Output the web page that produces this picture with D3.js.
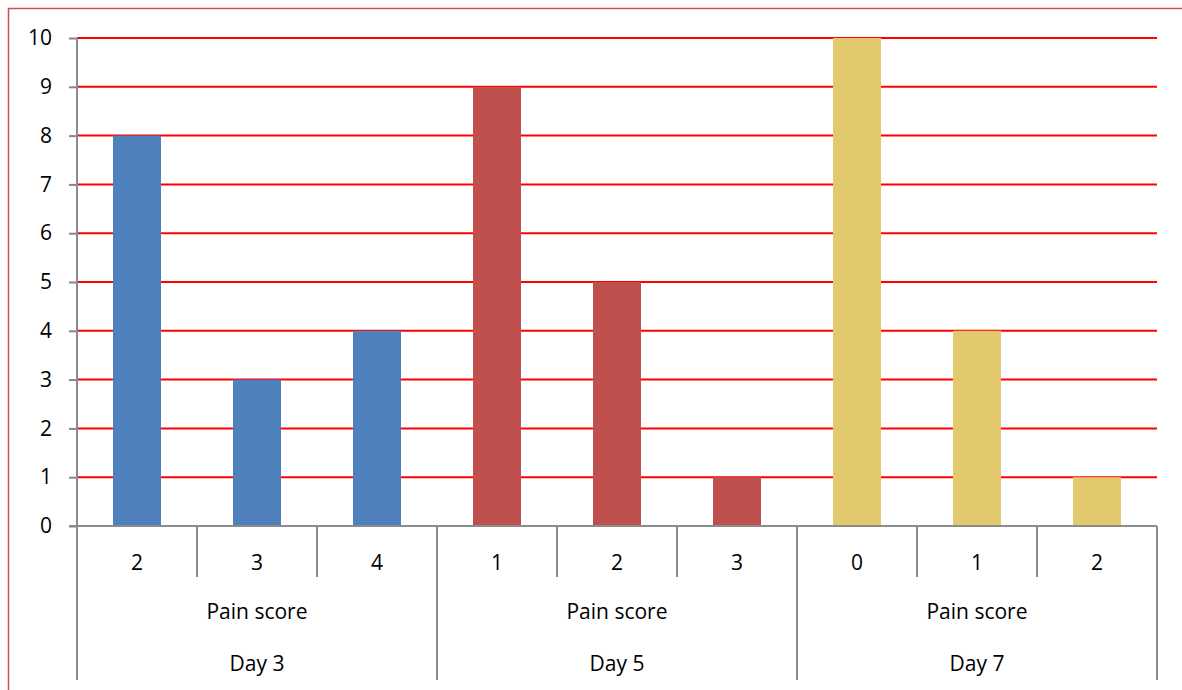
<!DOCTYPE html>
<html>
<head>
<meta charset="utf-8">
<script src="https://cdn.jsdelivr.net/npm/d3@7/dist/d3.min.js"></script>
<style>
  body { margin: 0; background: #fff; }
  text { font-family: "Open Sans", "Noto Sans", sans-serif; fill: #000; }
</style>
</head>
<body>
<div id="chart"></div>
<script>
// data
var days = ["Day 3", "Day 5", "Day 7"];
var groupLabel = "Pain score";
var painScores = [["2", "3", "4"], ["1", "2", "3"], ["0", "1", "2"]];
var counts = [[8, 3, 4], [9, 5, 1], [10, 4, 1]];
var dayColors = ["#4f81bd", "#c0504d", "#e3c96d"];
var yTicks = [0, 1, 2, 3, 4, 5, 6, 7, 8, 9, 10];

var W = 1182, H = 690;
var margin = {top: 38, right: 25, bottom: 164, left: 77},
    width = W - margin.left - margin.right,
    height = H - margin.top - margin.bottom;

var svg = d3.select("#chart")
  .append("svg")
    .attr("width", W)
    .attr("height", H);

// outer chart frame
svg.append("rect")
  .attr("x", 8.5).attr("y", 8.5)
  .attr("width", W + 20).attr("height", H + 20)
  .attr("fill", "none")
  .attr("stroke", "#c9504d")
  .attr("stroke-width", 1.5);

var g = svg.append("g")
  .attr("transform", "translate(" + margin.left + "," + margin.top + ")");

// flatten into one row per bar
var rows = [];
days.forEach(function(day, i) {
  painScores[i].forEach(function(s, j) {
    rows.push({key: i + "-" + j, day: i, score: s, value: counts[i][j]});
  });
});

var x = d3.scaleBand()
  .domain(rows.map(function(d) { return d.key; }))
  .range([0, width])
  .paddingInner(0.6)
  .paddingOuter(0.3);

var y = d3.scaleLinear()
  .domain([0, 10])
  .range([height, 0]);

// red gridlines
g.selectAll(".grid")
  .data(yTicks.filter(function(t) { return t > 0; }))
  .enter()
  .append("line")
    .attr("x1", 0).attr("x2", width)
    .attr("y1", function(d) { return y(d); })
    .attr("y2", function(d) { return y(d); })
    .attr("stroke", "#ff0000")
    .attr("stroke-width", 2);

// bars
g.selectAll(".bar")
  .data(rows)
  .enter()
  .append("rect")
    .attr("x", function(d) { return x(d.key); })
    .attr("y", function(d) { return y(d.value); })
    .attr("width", x.bandwidth())
    .attr("height", function(d) { return height - y(d.value); })
    .style("fill", function(d) { return dayColors[d.day]; });

// y axis
var yAxis = g.append("g")
  .call(d3.axisLeft(y).tickValues(yTicks).tickSize(8).tickPadding(17).tickFormat(d3.format("d")));
yAxis.select(".domain").remove();
yAxis.selectAll(".tick line").attr("stroke", "#868686").attr("stroke-width", 2);
yAxis.selectAll(".tick text").style("font-size", "21px");

var axisColor = "#8c8c8c";
var step = x.step();
var lvl1 = 51, lvl3 = 154;

// vertical axis line down through the category area
g.append("line")
  .attr("x1", 0).attr("x2", 0)
  .attr("y1", 0).attr("y2", height + lvl3)
  .attr("stroke", axisColor).attr("stroke-width", 2);

// horizontal base line
g.append("line")
  .attr("x1", -8).attr("x2", width)
  .attr("y1", height).attr("y2", height)
  .attr("stroke", axisColor).attr("stroke-width", 2);

// category ticks between bars (short) and between groups (long)
var tickX = d3.range(1, rows.length + 1);
g.selectAll(".ctick")
  .data(tickX)
  .enter()
  .append("line")
    .attr("x1", function(d) { return d * step; })
    .attr("x2", function(d) { return d * step; })
    .attr("y1", height)
    .attr("y2", function(d) { return (d % 3 === 0) ? height + lvl3 : height + lvl1; })
    .attr("stroke", axisColor).attr("stroke-width", 2);

// pain score labels
g.selectAll(".score")
  .data(rows)
  .enter()
  .append("text")
    .attr("x", function(d) { return x(d.key) + x.bandwidth() / 2; })
    .attr("y", height + 44)
    .attr("text-anchor", "middle")
    .style("font-size", "21px")
    .text(function(d) { return d.score; });

// group labels
days.forEach(function(day, i) {
  var cx = (i * 3 + 1.5) * step;
  g.append("text")
    .attr("x", cx).attr("y", height + 93)
    .attr("text-anchor", "middle")
    .style("font-size", "21px")
    .text(groupLabel);
  g.append("text")
    .attr("x", cx).attr("y", height + 145)
    .attr("text-anchor", "middle")
    .style("font-size", "21px")
    .text(day);
});
</script>
</body>
</html>
